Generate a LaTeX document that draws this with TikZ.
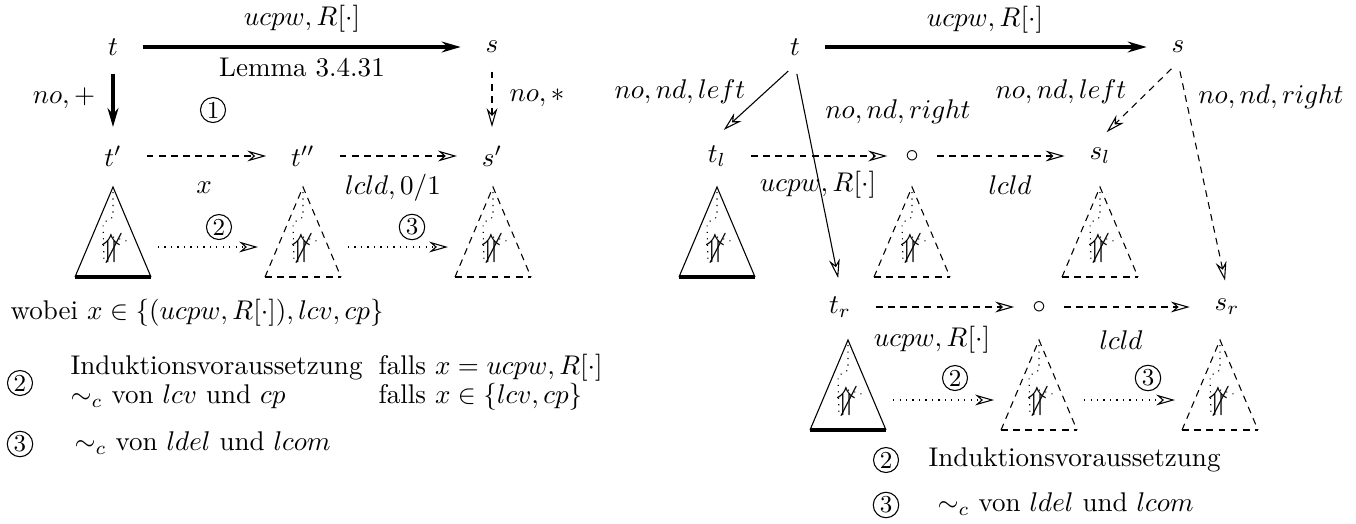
\documentclass[tikz,border=0pt]{standalone}
\usepackage{amsmath, amssymb}
\usetikzlibrary{arrows.meta}

% inner part of a subtree: dotted path and the crossed arrow
\newcommand{\treeinside}{%
  \draw[dotted] (0,0.5) -- (0,3.0) -- (-1.0,3.6) -- (-0.9,7.4);
  \draw[dotted] (0,5.0) -- (1.7,5.5);
  \node[inner sep=0pt, font=\large] (-g) at (-0.2,6.1) {$\not\Uparrow$};
  \coordinate (-l) at (-4.5,6);
  \coordinate (-r) at (4.5,6);
}

\begin{document}
\begin{tikzpicture}[x=1.3mm, y=-1.3mm,
  >={Stealth[open,length=7pt,width=4pt]},
  arr/.style={->, shorten <=2mm, shorten >=2mm},
  down/.style={->, shorten <=1.2mm, shorten >=1.2mm},
  heavy/.style={line width=1.2pt},
  dashline/.style={dash pattern=on 2.5pt off 2pt},
  dotarr/.style={->, dotted},
  num/.style={circle, draw, inner sep=0.6pt, font=\small},
  legend/.style={anchor=base west, inner sep=0pt},
  tree/.pic={
    \draw (-3.8,9) -- (0,0) -- (3.8,9);
    \draw[line width=1.3pt] (-3.8,9) -- (3.8,9);
    \treeinside
  },
  dashtree/.pic={
    \draw[dashline] (-3.8,9) -- (0,0) -- (3.8,9);
    \draw[dashline, line width=0.6pt] (-3.8,9) -- (3.8,9);
    \treeinside
  }]
  \useasboundingbox (0,0) rectangle (135.6,52.3);

  % Left diagram
  \node (t)  at (11.3,4.7)  {$t$};
  \node (s)  at (49.2,4.7)  {$s$};
  \node (t1) at (11.3,15.6) {$t'$};
  \node (t2) at (30.3,15.6) {$t''$};
  \node (s1) at (49.2,15.6) {$s'$};
  \draw[arr, heavy] (t) -- (s);
  \draw[down, heavy] (t) -- (t1);
  \draw[down, dashline] (s) -- (s1);
  \draw[arr, dashline] (t1) -- (t2);
  \draw[arr, dashline] (t2) -- (s1);
  \node (lab1) at (30.2,1.9) {$ucpw,R[\cdot]$};
  \node (lem)  at (30.2,6.8) {Lemma 3.4.31};
  \node (no1)  at (6.4,9.8)  {$no,+$};
  \node (no2)  at (53.7,9.8) {$no,*$};
  \node[num] (c1) at (21.3,11.0) {1};
  \node (x)     at (20.4,18.8) {$x$};
  \node (lcld1) at (39.3,18.8) {$lcld,0/1$};
  \node[num] (c2) at (21.9,22.7) {2};
  \node[num] (c3) at (41.2,22.7) {3};
  \pic (ta) at (11.3,18.7) {tree};
  \pic (tb) at (30.3,18.7) {dashtree};
  \pic (tc) at (49.3,18.7) {dashtree};
  \draw[dotarr] (ta-r) -- (tb-l);
  \draw[dotarr] (tb-r) -- (tc-l);

  % left legend
  \node[legend] (wob) at (1.0,31.9) {wobei $x\in\{(ucpw,R[\cdot]),lcv,cp\}$};
  \node[num] (lc2) at (2.0,38.3) {2};
  \node[legend] (ind)  at (7.0,37.4)  {Induktionsvoraussetzung};
  \node[legend] (ind2) at (37.8,37.4) {falls $x=ucpw,R[\cdot]$};
  \node[legend] (sim)  at (7.0,40.3)  {$\sim_c$ von $lcv$ und $cp$};
  \node[legend] (sim2) at (37.8,40.3) {falls $x\in\{lcv,cp\}$};
  \node[num] (lc3) at (2.0,44.4) {3};
  \node[legend] (sim3) at (7.4,45.0) {$\sim_c$ von $ldel$ und $lcom$};

  % Right diagram
  \node (rt) at (79.5,4.7)  {$t$};
  \node (rs) at (117.8,4.7) {$s$};
  \node (tl) at (71.7,15.6) {$t_l$};
  \node[inner sep=0.8pt] (ol) at (91.2,15.6) {$\circ$};
  \node (sl) at (110.0,15.6) {$s_l$};
  \node (tr) at (84.0,30.7) {$t_r$};
  \node[inner sep=0.8pt] (or) at (103.9,30.7) {$\circ$};
  \node (sr) at (122.7,30.7) {$s_r$};
  \draw[arr, heavy] (rt) -- (rs);
  \draw[down] (rt.south) -- (tl.north);
  \draw[down] (rt.south) -- (tr.north);
  \draw[down, dashline] (rs.south) -- (sl.north);
  \draw[down, dashline] (rs.south) -- (sr.north);
  \draw[arr, dashline] (tl) -- (ol);
  \draw[arr, dashline] (ol) -- (sl);
  \draw[arr, dashline] (tr) -- (or);
  \draw[arr, dashline] (or) -- (sr);
  \node (rlab) at (98.5,2.0)  {$ucpw,R[\cdot]$};
  \node (nl1)  at (68.0,9.2)  {$no,nd,left$};
  \node (nr1)  at (89.8,11.2) {$no,nd,right$};
  \node (nl2)  at (106.1,9.2) {$no,nd,left$};
  \node (nr2)  at (127.1,9.7) {$no,nd,right$};
  \node (ul) at (81.8,18.5)  {$ucpw,R[\cdot]$};
  \node (cl) at (101.0,18.5) {$lcld$};
  \node (ur) at (93.2,34.0)  {$ucpw,R[\cdot]$};
  \node (cr) at (112.1,34.0) {$lcld$};
  \pic (ua) at (71.7,18.7)  {tree};
  \pic (ub) at (91.2,18.7)  {dashtree};
  \pic (uc) at (110.0,18.7) {dashtree};
  \pic (la) at (84.8,34.0)  {tree};
  \pic (lb) at (103.9,34.0) {dashtree};
  \pic (lc) at (122.0,34.0) {dashtree};
  \draw[dotarr] (la-r) -- (lb-l);
  \draw[dotarr] (lb-r) -- (lc-l);
  \node[num] (rc2) at (95.5,37.8)  {2};
  \node[num] (rc3) at (114.8,37.8) {3};

  % right legend
  \node[num] (lg2) at (88.6,46.0) {2};
  \node[legend] (lt2) at (92.8,46.6) {Induktionsvoraussetzung};
  \node[num] (lg3) at (88.6,50.5) {3};
  \node[legend] (lt3) at (93.7,51.1) {$\sim_c$ von $ldel$ und $lcom$};
\end{tikzpicture}
\end{document}
